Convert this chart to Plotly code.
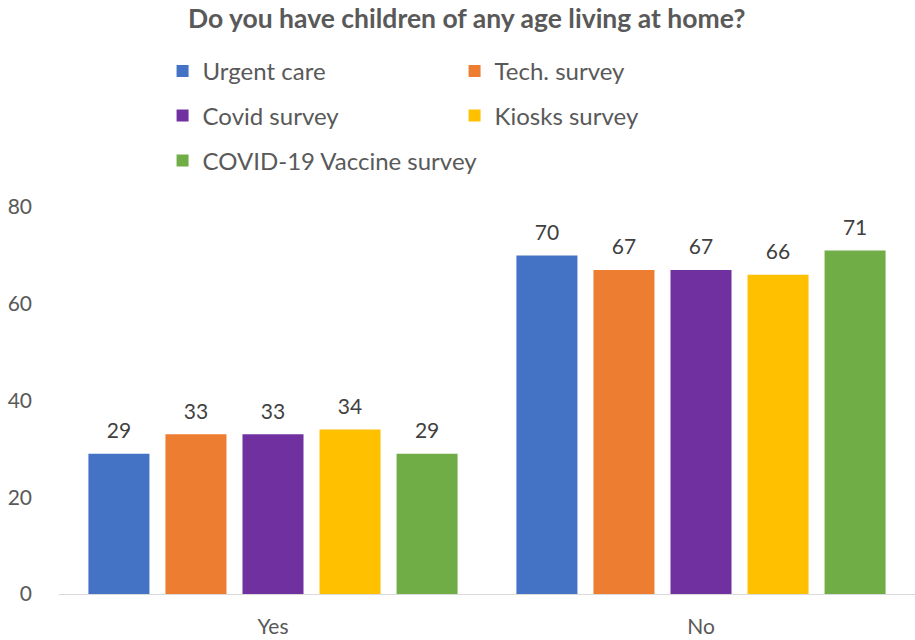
import plotly.graph_objects as go

categories = ["Yes", "No"]
series_names = ["Urgent care", "Tech. survey", "Covid survey", "Kiosks survey", "COVID-19 Vaccine survey"]
urgent_care = [29, 70]
tech_survey = [33, 67]
covid_survey = [33, 67]
kiosks_survey = [34, 66]
vaccine_survey = [29, 71]
y_ticks = [0, 20, 40, 60, 80]

values = [urgent_care, tech_survey, covid_survey, kiosks_survey, vaccine_survey]
colors = ["#4472C4", "#ED7D31", "#7030A0", "#FFC000", "#70AD47"]
legend_ids = ["legend", "legend", "legend2", "legend2", "legend3"]

FONT = "Lato"
PLOT_TOP, PLOT_BOTTOM = 207, 594
PLOT_H = PLOT_BOTTOM - PLOT_TOP
BARGAP = 0.10

fig = go.Figure()
for i, (name, vals) in enumerate(zip(series_names, values)):
    fig.add_trace(go.Bar(
        x=categories, y=vals, name=name,
        marker=dict(color=colors[i], line=dict(width=0)),
        offsetgroup=str(i), legend=legend_ids[i],
    ))
for i, (name, vals) in enumerate(zip(series_names, values)):
    fig.add_trace(go.Scatter(
        x=categories, y=vals, mode="markers+text", text=[str(v) for v in vals],
        textposition="top center", textfont=dict(family=FONT, size=21, color="#404040"),
        marker=dict(size=15, opacity=0), offsetgroup=str(i), showlegend=False,
        hoverinfo="skip", cliponaxis=False,
    ))

legend_common = dict(orientation="h", xanchor="left", yanchor="middle",
                     font=dict(family=FONT, size=24, color="#595959"),
                     itemwidth=30, bgcolor="rgba(0,0,0,0)")
fig.update_layout(
    width=915, height=640,
    margin=dict(l=59, r=0, t=PLOT_TOP, b=640 - PLOT_BOTTOM, autoexpand=False),
    paper_bgcolor="white", plot_bgcolor="white",
    barmode="group", bargap=BARGAP, bargroupgap=0.208,
    scattermode="group", scattergap=BARGAP,
    title=dict(text="Do you have children of any age living at home?",
               font=dict(family=FONT, size=26.5, color="#595959", weight="bold"),
               x=0.51, xanchor="center", y=1 - 19 / 640, yanchor="middle", yref="container"),
    legend=dict(x=0.121, y=(PLOT_BOTTOM - 71.5) / PLOT_H, entrywidth=247, **legend_common),
    legend2=dict(x=0.121, y=(PLOT_BOTTOM - 116) / PLOT_H, entrywidth=247, **legend_common),
    legend3=dict(x=0.121, y=(PLOT_BOTTOM - 161) / PLOT_H, entrywidth=400, **legend_common),
    xaxis=dict(range=[-0.5, 1.5], showline=True, linecolor="#D9D9D9", linewidth=1, ticks="",
               tickfont=dict(family=FONT, size=21, color="#595959"), ticklabelstandoff=14),
    yaxis=dict(range=[0, 80], tickvals=y_ticks, showgrid=False, zeroline=False, showline=False,
               tickfont=dict(family=FONT, size=21, color="#595959"), ticklabelstandoff=26),
    font=dict(family=FONT),
)
fig.write_html("out.html", config={"displayModeBar": False},
               post_script="document.body.style.margin='0';")
